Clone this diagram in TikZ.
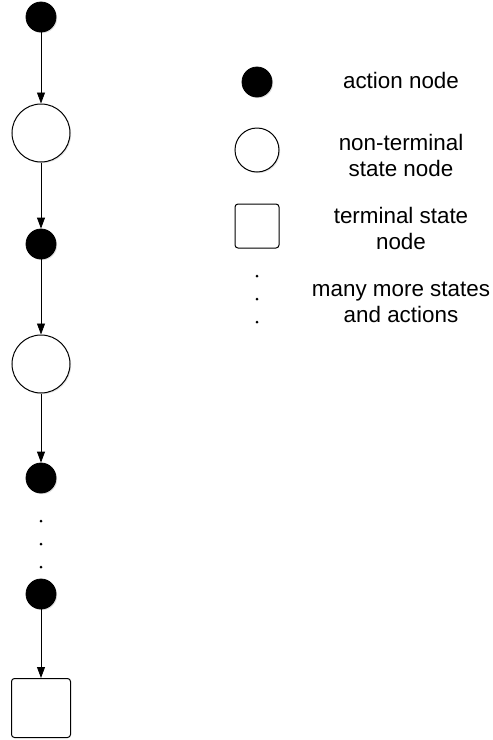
\documentclass[tikz,border=0pt]{standalone}
\usepackage{fontspec}
\setmainfont{Liberation Sans}
\usetikzlibrary{arrows.meta,shadows}

\begin{document}
\begin{tikzpicture}[x=1pt,y=-1pt,>={Triangle[length=11pt,width=8pt]},font=\fontsize{22.4}{26}\selectfont]
\tikzstyle{act}=[circle,draw,line width=0.8pt,fill=black,minimum size=30pt,inner sep=0pt,drop shadow={opacity=0.25,shadow xshift=1.2pt,shadow yshift=-1.2pt}]
\tikzstyle{state}=[circle,draw,line width=1pt,fill=white,minimum size=58pt,inner sep=0pt,drop shadow={opacity=0.2,shadow xshift=1.2pt,shadow yshift=-1.2pt}]
\tikzstyle{term}=[rectangle,draw,line width=1pt,rounded corners=3pt,fill=white,minimum size=59pt,inner sep=0pt]
\tikzstyle{dot}=[circle,fill=black,minimum size=3pt,inner sep=0pt]
\tikzstyle{txt}=[align=center]
\useasboundingbox (0,0) rectangle (493,740);
% the chain of states and actions
\node[act] (a1) at (41,17) {};
\node[state] (s1) at (41,133) {};
\node[act] (a2) at (41,244) {};
\node[state] (s2) at (41,364) {};
\node[act] (a3) at (41,478) {};
\node[dot] (d1) at (41,521) {};
\node[dot] (d2) at (41,544) {};
\node[dot] (d3) at (41,567) {};
\node[act] (a4) at (41,594) {};
\node[term] (t) at (41,708) {};
\draw[->,line width=0.8pt] (a1) -- (s1);
\draw[->,line width=0.8pt] (s1) -- (a2);
\draw[->,line width=0.8pt] (a2) -- (s2);
\draw[->,line width=0.8pt] (s2) -- (a3);
\draw[->,line width=0.8pt] (a4) -- (t);
% legend
\node[act] (la) at (257,82) {};
\node[state,minimum size=44pt] (ls) at (257,150) {};
\node[term,minimum size=44pt] (lt) at (257,226) {};
\node[dot] (ld1) at (257,276) {};
\node[dot] (ld2) at (257,299) {};
\node[dot] (ld3) at (257,322) {};
\node[txt] (lat) at (401,80) {action node};
\node[txt] (lst) at (401,155) {non-terminal\\state node};
\node[txt] (ltt) at (401,228) {terminal state\\node};
\node[txt] (ldt) at (401,302) {many more states\\and actions};
\end{tikzpicture}
\end{document}
